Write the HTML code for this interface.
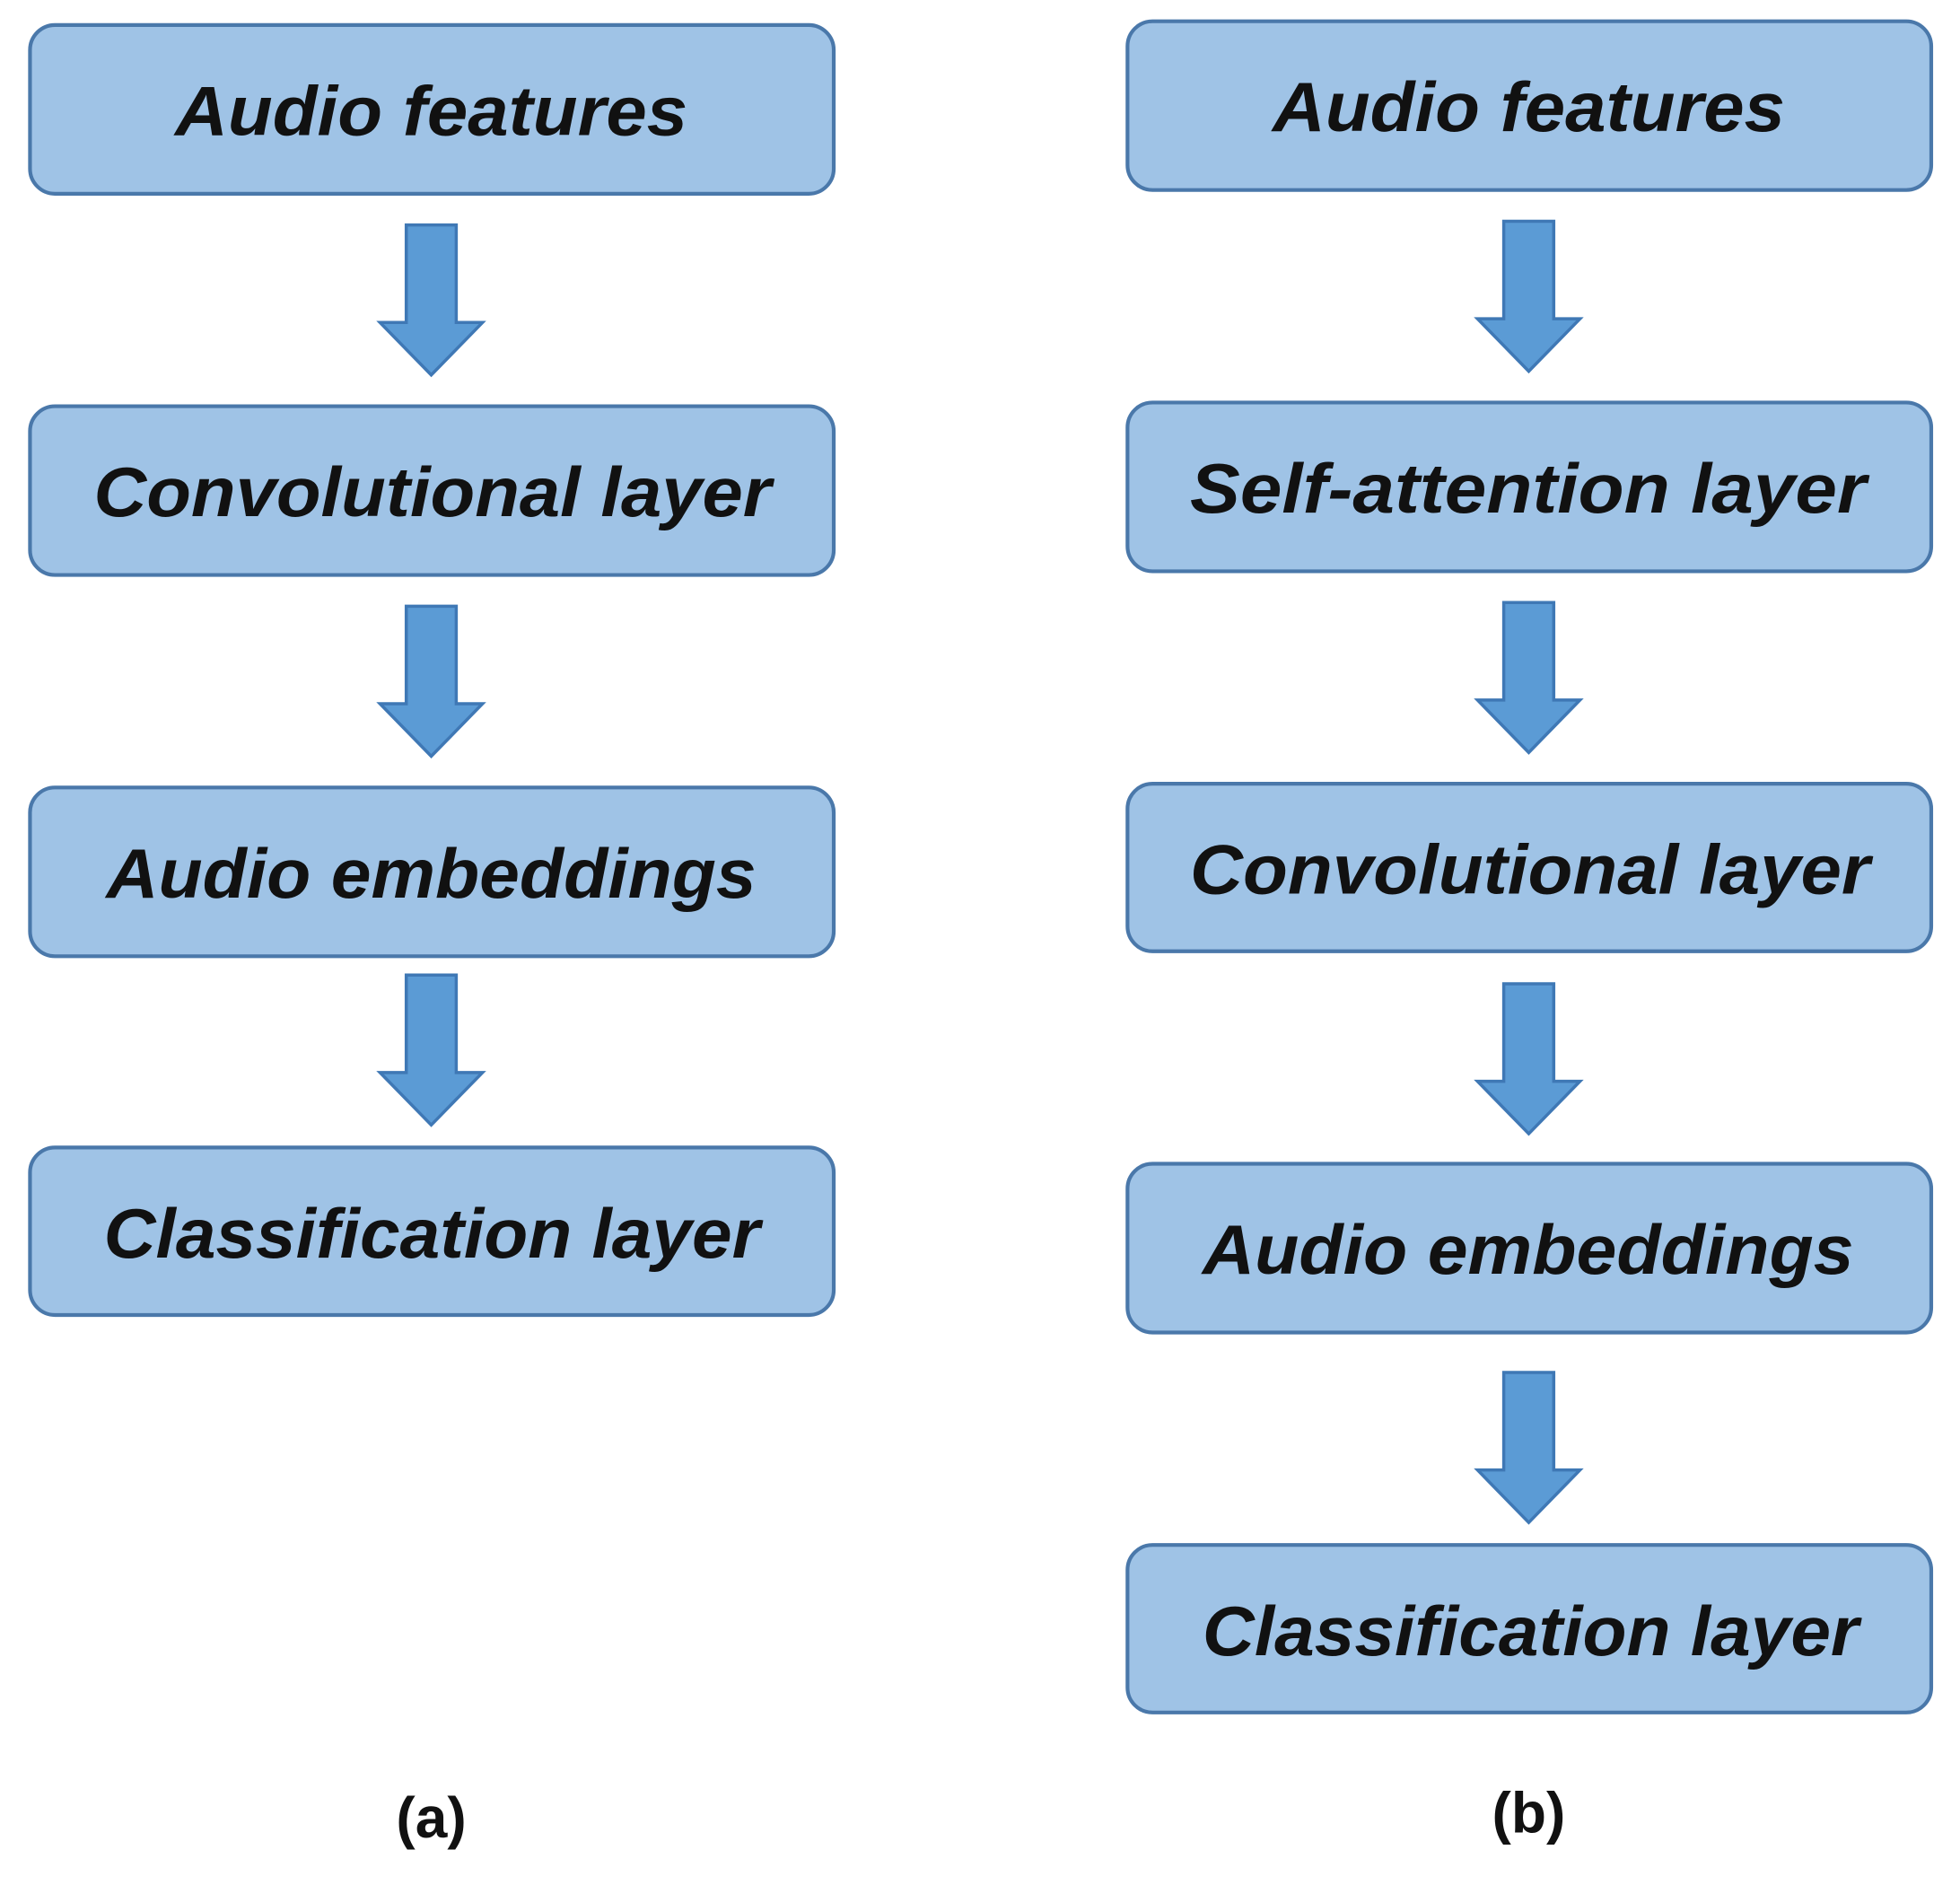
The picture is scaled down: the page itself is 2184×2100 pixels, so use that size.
<!DOCTYPE html>
<html><head><meta charset="utf-8"><style>
html,body{margin:0;padding:0;background:#fff;width:2184px;height:2100px;overflow:hidden}
svg{display:block}
text{font-family:"Liberation Sans",sans-serif;font-weight:bold;font-style:italic;fill:#111;font-size:56px}
.b{fill:#9fc3e6;stroke:#4a78aa;stroke-width:3}
.a{fill:#5b9bd5;stroke:#3f78b5;stroke-width:2.5}
.l{font-style:normal;font-size:46px}
</style></head><body>
<svg width="2184" height="2100" viewBox="0 0 1568 1508" preserveAspectRatio="none">
<defs>
<path id="arr" d="M-20,0 H20 V78 H41 L0,120 L-41,78 H-20 Z"/>
</defs>
<!-- left -->
<rect class="b" x="24" y="20" width="643" height="135" rx="20"/>
<rect class="b" x="24" y="325" width="643" height="135" rx="20"/>
<rect class="b" x="24" y="630" width="643" height="135" rx="20"/>
<rect class="b" x="24" y="918" width="643" height="134" rx="20"/>
<use href="#arr" class="a" x="345" y="180"/>
<use href="#arr" class="a" x="345" y="485"/>
<use href="#arr" class="a" x="345" y="780"/>
<text x="140" y="108" textLength="410" lengthAdjust="spacingAndGlyphs">Audio features</text>
<text x="75" y="413" textLength="542" lengthAdjust="spacingAndGlyphs">Convolutional layer</text>
<text x="85" y="718" textLength="520" lengthAdjust="spacingAndGlyphs">Audio embeddings</text>
<text x="83" y="1006" textLength="525" lengthAdjust="spacingAndGlyphs">Classification layer</text>
<!-- right -->
<rect class="b" x="902" y="17" width="643" height="135" rx="20"/>
<rect class="b" x="902" y="322" width="643" height="135" rx="20"/>
<rect class="b" x="902" y="627" width="643" height="134" rx="20"/>
<rect class="b" x="902" y="931" width="643" height="135" rx="20"/>
<rect class="b" x="902" y="1236" width="643" height="134" rx="20"/>
<use href="#arr" class="a" x="1223" y="177"/>
<use href="#arr" class="a" x="1223" y="482"/>
<use href="#arr" class="a" x="1223" y="787"/>
<use href="#arr" class="a" x="1223" y="1098"/>
<text x="1018" y="105" textLength="410" lengthAdjust="spacingAndGlyphs">Audio features</text>
<text x="952" y="410" textLength="541" lengthAdjust="spacingAndGlyphs">Self-attention layer</text>
<text x="952" y="715" textLength="544" lengthAdjust="spacingAndGlyphs">Convolutional layer</text>
<text x="962" y="1019" textLength="521" lengthAdjust="spacingAndGlyphs">Audio embeddings</text>
<text x="962" y="1324" textLength="525" lengthAdjust="spacingAndGlyphs">Classification layer</text>
<text class="l" x="345" y="1470" text-anchor="middle">(a)</text>
<text class="l" x="1223" y="1466" text-anchor="middle">(b)</text>
</svg>
</body></html>
